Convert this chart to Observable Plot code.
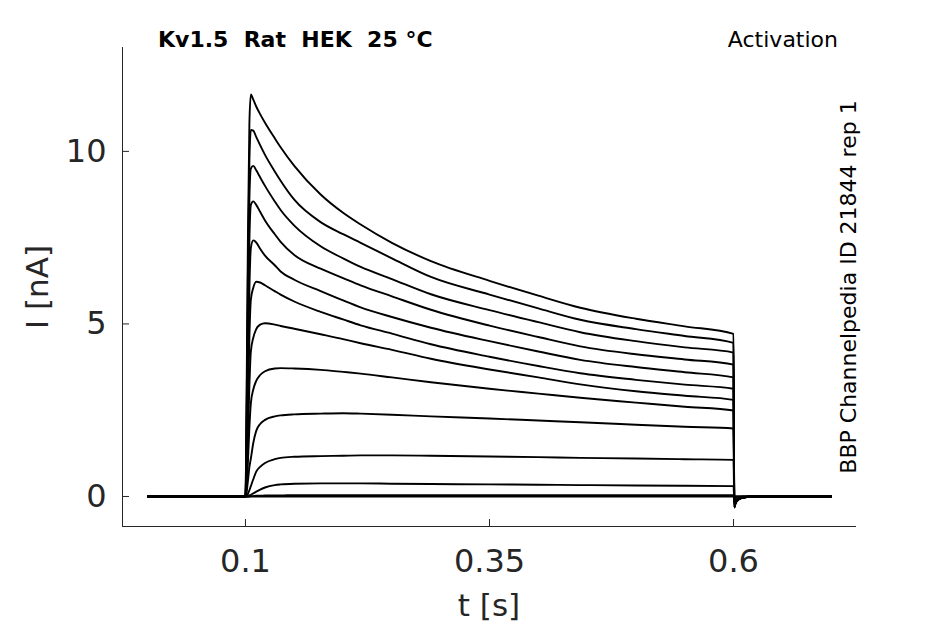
<!DOCTYPE html>
<html><head><meta charset="utf-8">
<script src="https://cdn.jsdelivr.net/npm/d3@7"></script>
<script src="https://cdn.jsdelivr.net/npm/@observablehq/plot@0.6"></script>
<style>
html,body{margin:0;padding:0;background:#fff;}
#chart svg{display:block;}
#chart text{white-space:pre;}
</style></head><body><div id="chart"></div>
<script>
// time points (s)
const t = [0, 0.1, 0.101, 0.1025, 0.104, 0.1055, 0.108, 0.111, 0.115, 0.12, 0.13, 0.136, 0.15, 0.177, 0.2, 0.218, 0.25, 0.29, 0.35, 0.4, 0.443, 0.5, 0.55, 0.6, 0.6008, 0.602, 0.605, 0.61, 0.62, 0.7];
// current sweeps (nA)
const sweep1  = [0, 0, 2.5, 7.5, 10.8, 11.65, 11.5, 11.3, 11.08, 10.83, 10.38, 10.12, 9.58, 8.75, 8.22, 7.88, 7.35, 6.82, 6.25, 5.82, 5.47, 5.15, 4.93, 4.71, -0.32, -0.2, -0.09, -0.03, 0, 0];
const sweep2  = [0, 0, 2.0, 6.5, 9.7, 10.62, 10.6, 10.42, 10.18, 9.9, 9.42, 9.15, 8.6, 7.95, 7.6, 7.35, 6.9, 6.36, 5.85, 5.45, 5.12, 4.85, 4.65, 4.45, -0.32, -0.2, -0.09, -0.03, 0, 0];
const sweep3  = [0, 0, 1.6, 5.6, 8.6, 9.5, 9.58, 9.45, 9.25, 9.0, 8.55, 8.3, 7.85, 7.25, 6.9, 6.65, 6.3, 5.86, 5.4, 5.05, 4.76, 4.5, 4.32, 4.17, -0.31, -0.2, -0.09, -0.03, 0, 0];
const sweep4  = [0, 0, 1.2, 4.6, 7.4, 8.45, 8.55, 8.45, 8.25, 8.0, 7.6, 7.38, 7.0, 6.6, 6.33, 6.12, 5.8, 5.41, 4.95, 4.62, 4.35, 4.12, 3.97, 3.82, -0.31, -0.2, -0.09, -0.03, 0, 0];
const sweep5  = [0, 0, 0.9, 3.6, 6.0, 7.2, 7.42, 7.36, 7.18, 6.98, 6.7, 6.52, 6.28, 5.95, 5.68, 5.48, 5.2, 4.89, 4.5, 4.2, 3.96, 3.75, 3.6, 3.45, -0.3, -0.19, -0.08, -0.03, 0, 0];
const sweep6  = [0, 0, 0.6, 2.6, 4.6, 5.7, 6.05, 6.22, 6.2, 6.12, 5.95, 5.85, 5.65, 5.35, 5.13, 4.96, 4.72, 4.41, 4.05, 3.78, 3.57, 3.38, 3.24, 3.12, -0.3, -0.19, -0.08, -0.03, 0, 0];
const sweep7  = [0, 0, 0.4, 1.7, 3.2, 4.2, 4.6, 4.85, 4.98, 5.02, 4.98, 4.94, 4.86, 4.7, 4.56, 4.44, 4.25, 3.99, 3.68, 3.45, 3.25, 3.05, 2.92, 2.8, -0.29, -0.18, -0.08, -0.03, 0, 0];
const sweep8  = [0, 0, 0.2, 1.0, 2.0, 2.7, 3.1, 3.35, 3.52, 3.63, 3.71, 3.72, 3.71, 3.67, 3.61, 3.56, 3.45, 3.31, 3.12, 2.98, 2.86, 2.72, 2.6, 2.49, -0.27, -0.17, -0.07, -0.02, 0, 0];
const sweep9  = [0, 0, 0.1, 0.45, 0.85, 1.1, 1.55, 1.9, 2.1, 2.22, 2.32, 2.35, 2.38, 2.4, 2.41, 2.4, 2.37, 2.32, 2.26, 2.2, 2.15, 2.08, 2.02, 1.97, -0.24, -0.15, -0.06, -0.02, 0, 0];
const sweep10 = [0, 0, 0.02, 0.08, 0.18, 0.3, 0.5, 0.72, 0.86, 0.97, 1.08, 1.12, 1.15, 1.17, 1.18, 1.19, 1.19, 1.18, 1.16, 1.14, 1.12, 1.1, 1.08, 1.06, -0.18, -0.11, -0.05, -0.02, 0, 0];
const sweep11 = [0, 0, 0, 0.01, 0.03, 0.05, 0.09, 0.14, 0.2, 0.26, 0.33, 0.35, 0.37, 0.38, 0.38, 0.38, 0.37, 0.36, 0.35, 0.34, 0.33, 0.32, 0.31, 0.3, -0.08, -0.05, -0.02, 0, 0, 0];
const sweep12 = [0, 0, 0, 0, 0, 0.01, 0.01, 0.02, 0.02, 0.03, 0.03, 0.03, 0.04, 0.04, 0.04, 0.04, 0.04, 0.04, 0.04, 0.04, 0.04, 0.04, 0.04, 0.04, 0, 0, 0, 0, 0, 0];
const sweep13 = [0, 0, 0, 0, 0, 0, 0, 0, 0, 0, 0, 0, 0, 0, 0, 0, 0, 0, 0, 0, 0, 0, 0, 0, 0, 0, 0, 0, 0, 0];

const xTicks = [0.1, 0.35, 0.6];
const yTicks = [0, 5, 10];
const xDomain = [-0.026, 0.726];
const yDomain = [-0.87, 13.01];

const sweeps = [sweep1, sweep2, sweep3, sweep4, sweep5, sweep6, sweep7, sweep8, sweep9, sweep10, sweep11, sweep12, sweep13];
const rows = sweeps.flatMap((s, k) => s.map((v, i) => ({t: t[i], v, sweep: k})));
const ink = "#262626";

const plot = Plot.plot({
  width: 945, height: 624,
  marginLeft: 122, marginRight: 89, marginTop: 47, marginBottom: 98,
  style: {fontFamily: "DejaVu Sans", background: "#fff", color: ink},
  x: {domain: xDomain},
  y: {domain: yDomain},
  marks: [
    Plot.ruleX([xDomain[0]], {stroke: ink, strokeWidth: 1}),
    Plot.ruleY([yDomain[0]], {stroke: ink, strokeWidth: 1}),
    Plot.axisX(xTicks, {tickSize: 7, dy: -7, color: ink, tickFormat: () => "", label: null}),
    Plot.axisX(xTicks, {tickSize: 0, tickPadding: 23, fontSize: 32, color: ink, tickFormat: d => String(d), label: null}),
    Plot.axisY(yTicks, {tickSize: 7, dx: 7, color: ink, tickFormat: () => "", label: null}),
    Plot.axisY(yTicks, {tickSize: 0, tickPadding: 16, fontSize: 32, color: ink, tickFormat: d => String(d), label: null}),
    Plot.line(rows, {x: "t", y: "v", z: "sweep", stroke: "black", strokeWidth: 1.9, curve: "monotone-x"})
  ]
});

const svg = d3.select(plot);
const ff = "DejaVu Sans";
svg.append("text").attr("x", 158).attr("y", 47).attr("text-anchor", "start")
  .style("font-family", ff).style("font-size", "22px").style("font-weight", "bold").attr("fill", "#000")
  .text("Kv1.5  Rat  HEK  25 °C");
svg.append("text").attr("x", 838).attr("y", 47).attr("text-anchor", "end")
  .style("font-family", ff).style("font-size", "22px").attr("fill", "#000")
  .text("Activation");
svg.append("text").attr("transform", "translate(856,287) rotate(-90)").attr("text-anchor", "middle")
  .style("font-family", ff).style("font-size", "22px").attr("fill", "#000")
  .text("BBP Channelpedia ID 21844 rep 1");
svg.append("text").attr("transform", "translate(48,287) rotate(-90)").attr("text-anchor", "middle")
  .style("font-family", ff).style("font-size", "31px").attr("fill", ink)
  .text("I [nA]");
svg.append("text").attr("x", 489).attr("y", 616).attr("text-anchor", "middle")
  .style("font-family", ff).style("font-size", "31px").attr("fill", ink)
  .text("t [s]");

document.getElementById("chart").appendChild(plot);
</script>
</body></html>
